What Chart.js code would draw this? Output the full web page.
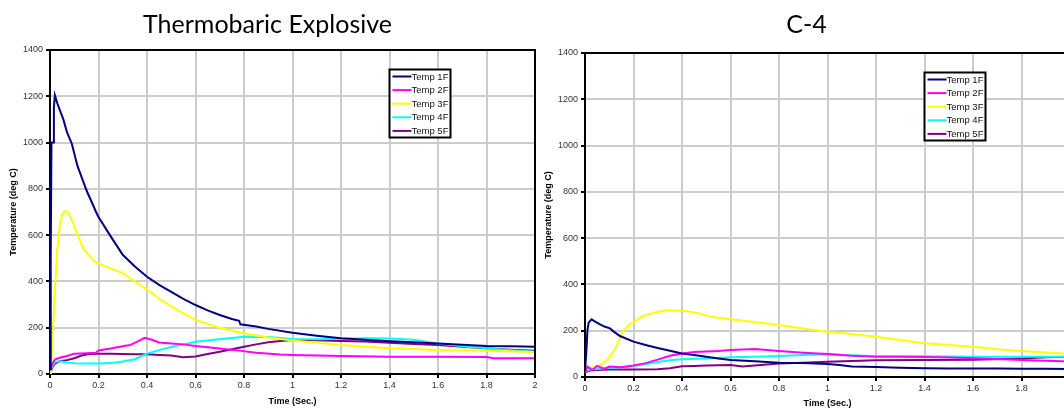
<!DOCTYPE html>
<html>
<head>
<meta charset="utf-8">
<script src="https://cdn.jsdelivr.net/npm/chart.js@4.4.0/dist/chart.umd.min.js"></script>
<style>
  html, body { margin: 0; padding: 0; background: #fff; width: 1064px; height: 409px; overflow: hidden; }
  .box { position: absolute; top: 0; height: 409px; }
  #tbBox { left: 0; width: 548px; }
  #c4Box { left: 543px; width: 622px; }
</style>
</head>
<body>
<div class="box" id="tbBox"><canvas id="tb" width="548" height="409"></canvas></div>
<div class="box" id="c4Box"><canvas id="c4" width="622" height="409"></canvas></div>
<script>
// Axis ticks shared by both panels
const xTickValues = [0, 0.2, 0.4, 0.6, 0.8, 1, 1.2, 1.4, 1.6, 1.8, 2];
const xTickLabels = ['0', '0.2', '0.4', '0.6', '0.8', '1', '1.2', '1.4', '1.6', '1.8', '2'];
const yTickValues = [0, 200, 400, 600, 800, 1000, 1200, 1400];
const yTickLabels = ['0', '200', '400', '600', '800', '1000', '1200', '1400'];

const seriesNames = ['Temp 1F', 'Temp 2F', 'Temp 3F', 'Temp 4F', 'Temp 5F'];
const seriesColors = ['#000080', '#ff00ff', '#ffff00', '#00ffff', '#800080'];

// Thermobaric explosive: time (s) and temperature (deg C) per thermocouple
const tbTime1 = [0, 0.002, 0.004, 0.006, 0.008, 0.014, 0.016, 0.02, 0.03, 0.055, 0.07, 0.09, 0.113, 0.15, 0.19, 0.2, 0.247, 0.3, 0.35, 0.4, 0.45, 0.5, 0.55, 0.6, 0.65, 0.7, 0.75, 0.78, 0.785, 0.85, 0.9, 1.0, 1.1, 1.2, 1.3, 1.4, 1.5, 1.6, 1.7, 1.8, 1.9, 2.0];
const tbTemp1 = [20, 250, 500, 1000, 1000, 1000, 1150, 1205, 1170, 1100, 1045, 995, 900, 795, 700, 678, 600, 515, 465, 420, 385, 355, 325, 298, 275, 255, 238, 230, 215, 205, 195, 178, 165, 154, 148, 142, 137, 132, 126, 121, 120, 118];
const tbTime2 = [0, 0.01, 0.02, 0.04, 0.07, 0.1, 0.15, 0.19, 0.2, 0.25, 0.3, 0.33, 0.36, 0.39, 0.42, 0.45, 0.5, 0.55, 0.6, 0.7, 0.78, 0.85, 0.95, 1.0, 1.2, 1.4, 1.6, 1.8, 1.83, 2.0];
const tbTemp2 = [15, 45, 62, 70, 78, 88, 90, 92, 102, 110, 120, 125, 140, 156, 148, 136, 132, 128, 121, 110, 101, 92, 84, 82, 78, 75, 75, 73, 68, 68];
const tbTime3 = [0, 0.004, 0.01, 0.02, 0.03, 0.04, 0.05, 0.065, 0.075, 0.096, 0.11, 0.137, 0.165, 0.186, 0.22, 0.26, 0.3, 0.35, 0.4, 0.45, 0.5, 0.55, 0.6, 0.7, 0.8, 0.9, 1.0, 1.1, 1.2, 1.3, 1.4, 1.5, 1.6, 1.7, 1.8, 1.9, 2.0];
const tbTemp3 = [0, 20, 150, 350, 540, 640, 690, 705, 698, 651, 610, 543, 507, 485, 468, 452, 436, 400, 366, 325, 292, 262, 234, 200, 175, 158, 145, 135, 125, 118, 111, 108, 104, 102, 100, 98, 95];
const tbTime4 = [0, 0.01, 0.02, 0.04, 0.07, 0.1, 0.15, 0.2, 0.25, 0.3, 0.35, 0.4, 0.45, 0.5, 0.55, 0.6, 0.65, 0.7, 0.8, 0.9, 1.0, 1.1, 1.2, 1.3, 1.4, 1.5, 1.6, 1.7, 1.8, 1.9, 2.0];
const tbTemp4 = [10, 35, 52, 55, 50, 46, 45, 45, 47, 54, 64, 88, 103, 117, 128, 139, 145, 150, 161, 160, 151, 150, 152, 155, 153, 148, 132, 120, 111, 103, 96];
const tbTime5 = [0, 0.01, 0.02, 0.04, 0.07, 0.1, 0.13, 0.16, 0.2, 0.25, 0.3, 0.35, 0.4, 0.45, 0.5, 0.55, 0.6, 0.65, 0.7, 0.75, 0.8, 0.85, 0.9, 0.95, 1.0, 1.1, 1.2, 1.3, 1.4, 1.5, 1.6, 1.7, 1.8, 1.9, 2.0];
const tbTemp5 = [0, 30, 45, 55, 60, 68, 80, 86, 88, 88, 86, 85, 85, 82, 80, 72, 76, 86, 96, 107, 118, 128, 137, 143, 147, 146, 143, 140, 135, 130, 125, 118, 111, 105, 100];

// C-4: time (s) and temperature (deg C) per thermocouple
const c4Time1 = [0, 0.005, 0.01, 0.015, 0.027, 0.04, 0.06, 0.08, 0.103, 0.12, 0.144, 0.2, 0.25, 0.3, 0.35, 0.4, 0.45, 0.5, 0.55, 0.6, 0.7, 0.8, 0.9, 1.0, 1.05, 1.1, 1.2, 1.3, 1.4, 1.5, 1.6, 1.7, 1.8, 1.9, 2.0];
const c4Temp1 = [25, 100, 200, 235, 249, 240, 228, 218, 210, 195, 177, 153, 138, 125, 113, 102, 95, 88, 80, 73, 68, 62, 60, 56, 52, 45, 43, 40, 38, 37, 37, 37, 36, 36, 35];
const c4Time2 = [0, 0.01, 0.03, 0.05, 0.08, 0.1, 0.15, 0.2, 0.25, 0.3, 0.35, 0.4, 0.45, 0.5, 0.55, 0.6, 0.7, 0.8, 0.9, 1.0, 1.1, 1.2, 1.3, 1.4, 1.5, 1.6, 1.7, 1.8, 1.9, 2.0];
const c4Temp2 = [20, 45, 30, 48, 35, 45, 42, 50, 60, 75, 92, 102, 108, 110, 112, 117, 121, 112, 105, 99, 92, 88, 87, 86, 84, 81, 78, 73, 70, 67];
const c4Time3 = [0, 0.01, 0.03, 0.048, 0.06, 0.089, 0.11, 0.13, 0.151, 0.185, 0.2, 0.24, 0.254, 0.3, 0.336, 0.38, 0.42, 0.46, 0.515, 0.55, 0.6, 0.7, 0.8, 0.9, 1.0, 1.1, 1.2, 1.3, 1.4, 1.5, 1.6, 1.7, 1.8, 1.9, 2.0];
const c4Temp3 = [35, 40, 40, 45, 48, 70, 100, 131, 187, 230, 236, 264, 268, 282, 288, 286, 284, 278, 262, 256, 250, 238, 225, 210, 196, 186, 174, 160, 146, 138, 131, 120, 112, 106, 100];
const c4Time4 = [0, 0.02, 0.05, 0.1, 0.15, 0.2, 0.25, 0.3, 0.35, 0.4, 0.5, 0.6, 0.7, 0.8, 0.9, 1.0, 1.1, 1.2, 1.4, 1.6, 1.8, 2.0];
const c4Temp4 = [25, 32, 35, 40, 42, 47, 55, 65, 72, 77, 80, 85, 88, 91, 95, 98, 94, 90, 90, 88, 88, 88];
const c4Time5 = [0, 0.02, 0.05, 0.1, 0.2, 0.3, 0.35, 0.4, 0.45, 0.5, 0.6, 0.65, 0.7, 0.8, 0.9, 1.0, 1.2, 1.4, 1.6, 1.8, 1.9, 2.0];
const c4Temp5 = [20, 28, 30, 32, 32, 34, 38, 46, 48, 50, 52, 45, 50, 58, 62, 66, 72, 73, 74, 80, 85, 88];

const FONT = '"Liberation Sans", Arial, sans-serif';

function pairs(t, v) {
  return t.map((x, i) => ({ x: x, y: v[i] }));
}

function buildDatasets(times, temps) {
  return seriesNames.map((name, i) => ({
    label: name,
    data: pairs(times[i], temps[i]),
    borderColor: seriesColors[i],
    backgroundColor: seriesColors[i],
    borderWidth: 2,
    pointRadius: 0,
    tension: 0,
    fill: false
  }));
}

// Black frame around the plot and the boxed legend in its upper right
const framePlugin = {
  id: 'frameAndLegend',
  afterDatasetsDraw(chart) {
    const { ctx, chartArea: a } = chart;
    ctx.save();
    ctx.strokeStyle = '#000';
    ctx.lineWidth = 2;
    ctx.beginPath();
    ctx.moveTo(a.left, a.top);
    ctx.lineTo(a.right, a.top);
    ctx.lineTo(a.right, a.bottom);
    ctx.stroke();

    const bx = a.left + 339.5, by = a.top + 19.5, bw = 61, bh = 68;
    ctx.fillStyle = '#fff';
    ctx.fillRect(bx, by, bw, bh);
    ctx.lineWidth = 2;
    ctx.strokeRect(bx, by, bw, bh);
    ctx.font = '9.5px ' + FONT;
    ctx.textBaseline = 'middle';
    ctx.textAlign = 'left';
    chart.data.datasets.forEach((ds, i) => {
      const y = by + 7 + i * 13.6;
      ctx.strokeStyle = ds.borderColor;
      ctx.lineWidth = 2;
      ctx.beginPath();
      ctx.moveTo(bx + 3, y);
      ctx.lineTo(bx + 22, y);
      ctx.stroke();
      ctx.fillStyle = '#111';
      ctx.fillText(ds.label, bx + 22, y + 0.5);
    });
    ctx.restore();
  }
};

function makeChart(id, title, datasets, opt) {
  return new Chart(document.getElementById(id), {
    type: 'line',
    data: { datasets: datasets },
    plugins: [framePlugin],
    options: {
      responsive: false,
      animation: false,
      devicePixelRatio: 1,
      layout: { padding: { left: 0, right: opt.padRight, top: 0, bottom: 0 } },
      plugins: {
        legend: { display: false },
        tooltip: { enabled: false },
        title: {
          display: true,
          text: title,
          color: '#000',
          font: { family: 'Lato, "Open Sans", sans-serif', size: 25, weight: 'normal' },
          padding: { top: 10, bottom: opt.titleBottom }
        }
      },
      scales: {
        x: {
          type: 'linear',
          min: 0,
          max: 2,
          afterBuildTicks: s => { s.ticks = xTickValues.map(v => ({ value: v })); },
          afterFit: s => { s.height = opt.xHeight; },
          ticks: {
            callback: (v, i) => xTickLabels[i],
            color: '#333',
            font: { family: FONT, size: 9 },
            padding: 2,
            maxRotation: 0,
            autoSkip: false
          },
          grid: { color: '#cccccc', lineWidth: 2, tickColor: '#000', tickLength: 4 },
          border: { color: '#000', width: 2 },
          title: {
            display: true,
            text: 'Time (Sec.)',
            color: '#000',
            font: { family: FONT, size: 9, weight: 'bold' },
            padding: { top: 0, bottom: opt.xTitlePad }
          }
        },
        y: {
          type: 'linear',
          min: 0,
          max: 1400,
          afterBuildTicks: s => { s.ticks = yTickValues.map(v => ({ value: v })); },
          afterFit: s => { s.width = opt.yWidth; },
          ticks: {
            callback: (v, i) => yTickLabels[i],
            color: '#333',
            font: { family: FONT, size: 9 },
            padding: 3
          },
          grid: { color: '#cccccc', lineWidth: 2, tickColor: '#000', tickLength: 4 },
          border: { color: '#000', width: 2 },
          title: {
            display: true,
            text: 'Temperature (deg C)',
            color: '#000',
            font: { family: FONT, size: 9, weight: 'bold' },
            padding: { top: opt.yTitlePad, bottom: 0 }
          }
        }
      }
    }
  });
}

makeChart('tb', 'Thermobaric Explosive',
  buildDatasets([tbTime1, tbTime2, tbTime3, tbTime4, tbTime5], [tbTemp1, tbTemp2, tbTemp3, tbTemp4, tbTemp5]),
  { padRight: 13, titleBottom: 10, xHeight: 35, xTitlePad: 2, yWidth: 50, yTitlePad: 8.5 });

makeChart('c4', 'C-4',
  buildDatasets([c4Time1, c4Time2, c4Time3, c4Time4, c4Time5], [c4Temp1, c4Temp2, c4Temp3, c4Temp4, c4Temp5]),
  { padRight: 95, titleBottom: 13, xHeight: 32, xTitlePad: 0, yWidth: 42, yTitlePad: 0 });
</script>
</body>
</html>
